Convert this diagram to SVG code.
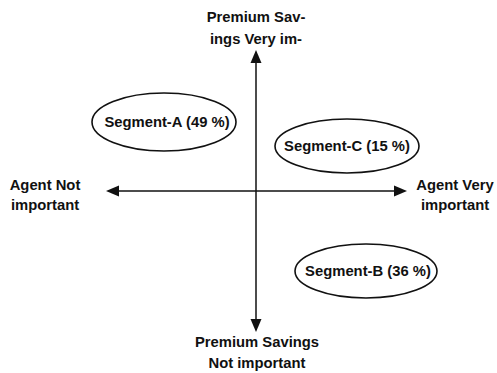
<svg xmlns="http://www.w3.org/2000/svg" width="497" height="373" viewBox="0 0 497 373">
  <style>
    text { font-family: "Liberation Sans", Arial, sans-serif; font-weight: bold; font-size: 14.8px; fill: #111111; }
    .mid { text-anchor: middle; }
    .seg { fill: #ffffff; stroke: #111111; stroke-width: 1.6; }
    .axis { stroke: #111111; stroke-width: 1.5; fill: none; }
    .head { fill: #111111; }
  </style>
  <rect width="497" height="373" fill="#ffffff"/>

  <g id="connectors">
    <line class="axis" x1="256" y1="62" x2="256" y2="320"/>
    <polygon class="head" points="256,50 250.5,63 261.5,63"/>
    <polygon class="head" points="256,332 250.5,319 261.5,319"/>
    <line class="axis" x1="118" y1="191" x2="396" y2="191"/>
    <polygon class="head" points="106,191 119,185.5 119,196.5"/>
    <polygon class="head" points="407,191 394,185.5 394,196.5"/>
  </g>

  <g id="label-top">
    <text class="mid" x="256" y="22">Premium Sav-</text>
    <text class="mid" x="256" y="44">ings Very im-</text>
  </g>
  <g id="label-bottom">
    <text class="mid" x="257" y="347">Premium Savings</text>
    <text class="mid" x="257" y="368">Not important</text>
  </g>
  <g id="label-left">
    <text class="mid" x="45" y="190">Agent Not</text>
    <text class="mid" x="45" y="210">important</text>
  </g>
  <g id="label-right">
    <text class="mid" x="455" y="190">Agent Very</text>
    <text class="mid" x="455" y="210">important</text>
  </g>

  <g id="segment-a">
    <ellipse class="seg" cx="164" cy="122" rx="72" ry="29"/>
    <text class="mid" x="167" y="127">Segment-A (49 %)</text>
  </g>
  <g id="segment-c">
    <ellipse class="seg" cx="347" cy="146" rx="72" ry="27"/>
    <text class="mid" x="347" y="151">Segment-C (15 %)</text>
  </g>
  <g id="segment-b">
    <ellipse class="seg" cx="366" cy="271" rx="71" ry="27"/>
    <text class="mid" x="368" y="276">Segment-B (36 %)</text>
  </g>
</svg>
